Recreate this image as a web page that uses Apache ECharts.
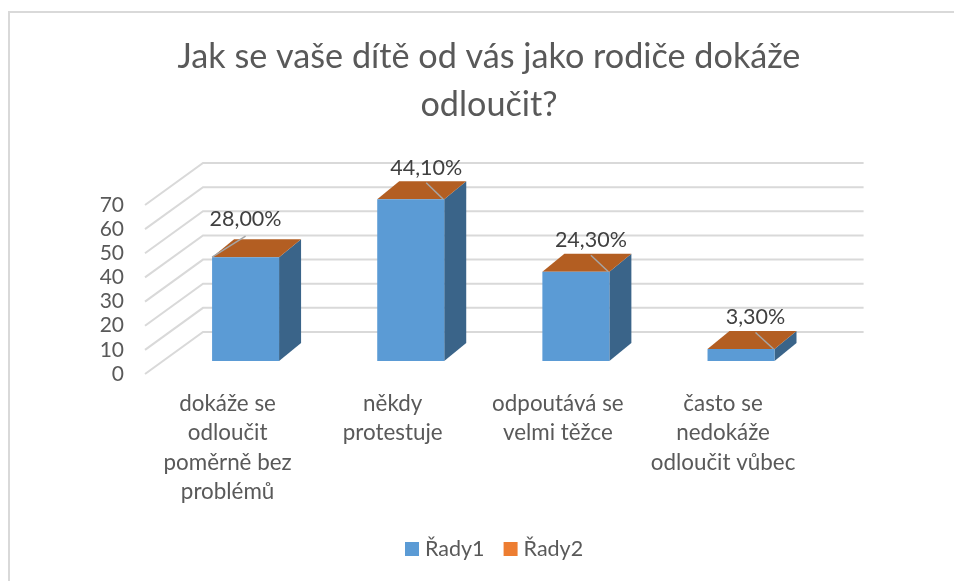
<!DOCTYPE html>
<html>
<head>
<meta charset="utf-8">
<style>
  html, body { margin: 0; padding: 0; background: #fff; }
  #chart { width: 954px; height: 581px; }
</style>
<script src="https://cdn.jsdelivr.net/npm/echarts@6/dist/echarts.min.js"></script>
</head>
<body>
<div id="chart"></div>
<script>
var titleText = 'Jak se vaše dítě od vás jako rodiče dokáže\nodloučit?';
var categories = [
  'dokáže se\nodloučit\npoměrně bez\nproblémů',
  'někdy\nprotestuje',
  'odpoutává se\nvelmi těžce',
  'často se\nnedokáže\nodloučit vůbec'
];
var series1Name = 'Řady1';
var series2Name = 'Řady2';
var series1Values = [43, 67, 37, 5];
var valueLabels = ['28,00%', '44,10%', '24,30%', '3,30%'];
var yTicks = [0, 10, 20, 30, 40, 50, 60, 70];

var FONT = 'Lato, "Open Sans", sans-serif';
// fake 3d: floor goes this far right/up from the front plane
var WALL_DX = 58, WALL_DY = -42;
var BAR_DX = 22, BAR_DY = -18;
// bars sit in the middle of the floor depth
var BAR_OFF_X = 18, BAR_OFF_Y = -13;
var BAR_WIDTH = 67;
// label position against top of the bar [dx from bar centre, dy from top], leader goes to front corner
var labelShift = [[0, -38], [15.5, -31.5], [15, -31.5], [14.5, -31.5]];

function renderGrid(params, api) {
  var cs = params.coordSys;
  var y = api.coord([0, api.value(0)])[1];
  return {
    type: 'polyline',
    silent: true,
    shape: {
      points: [
        [cs.x, y],
        [cs.x + WALL_DX, y + WALL_DY],
        [cs.x + cs.width + WALL_DX, y + WALL_DY]
      ]
    },
    style: { fill: null, stroke: '#D9D9D9', lineWidth: 2 }
  };
}

function renderBar(params, api) {
  var i = api.value(0);
  var top = api.coord([i, api.value(1)]);
  var base = api.coord([i, 0]);
  var x0 = top[0] - BAR_WIDTH / 2 + BAR_OFF_X;
  var x1 = x0 + BAR_WIDTH;
  var yT = top[1] + BAR_OFF_Y;
  var yB = base[1] + BAR_OFF_Y;
  var shift = labelShift[i];
  var cx = (x0 + x1) / 2;
  var leftLeader = shift[0] === 0;
  return {
    type: 'group',
    children: [
      {
        type: 'polygon',
        shape: { points: [[x1, yT], [x1 + BAR_DX, yT + BAR_DY], [x1 + BAR_DX, yB + BAR_DY], [x1, yB]] },
        style: { fill: '#3A6489' }
      },
      {
        type: 'polygon',
        shape: { points: [[x0, yT], [x0 + BAR_DX, yT + BAR_DY], [x1 + BAR_DX, yT + BAR_DY], [x1, yT]] },
        style: { fill: '#B35E22' }
      },
      {
        type: 'rect',
        shape: { x: x0, y: yT, width: BAR_WIDTH, height: yB - yT },
        style: { fill: '#5B9BD5' }
      },
      {
        type: 'line',
        shape: {
          x1: leftLeader ? x0 : x1 - 1,
          y1: yT,
          x2: cx + shift[0],
          y2: yT + shift[1] + (leftLeader ? 17 : 15)
        },
        style: { stroke: '#A6A6A6', lineWidth: 1.5 }
      },
      {
        type: 'text',
        style: {
          x: cx + shift[0],
          y: yT + shift[1],
          text: valueLabels[i],
          fill: '#404040',
          font: '21.5px ' + FONT,
          align: 'center',
          verticalAlign: 'middle'
        }
      }
    ]
  };
}

var chart = echarts.init(document.getElementById('chart'), null, { renderer: 'canvas' });

chart.setOption({
  backgroundColor: '#fff',
  animation: false,
  title: {
    text: titleText,
    left: 484,
    top: 28,
    textAlign: 'center',
    textStyle: { color: '#595959', fontFamily: FONT, fontWeight: 'normal', fontSize: 34.2, lineHeight: 48 }
  },
  legend: {
    left: 400,
    top: 533,
    itemWidth: 14,
    itemHeight: 14,
    itemGap: 19,
    icon: 'rect',
    data: [series1Name, series2Name],
    textStyle: { color: '#595959', fontFamily: FONT, fontSize: 21.5, padding: [0, 0, 0, 1] }
  },
  grid: { left: 145, top: 205, width: 660.6, height: 169 },
  xAxis: {
    type: 'category',
    data: categories,
    axisLine: { show: false },
    axisTick: { show: false },
    axisLabel: { interval: 0, margin: 15, color: '#595959', fontFamily: FONT, fontSize: 22.4, lineHeight: 29.5 }
  },
  yAxis: {
    type: 'value',
    min: 0,
    max: 70,
    interval: 10,
    axisLine: { show: false },
    axisTick: { show: false },
    splitLine: { show: false },
    axisLabel: { margin: 21, color: '#595959', fontFamily: FONT, fontSize: 21 }
  },
  graphic: [{
    type: 'polyline',
    silent: true,
    shape: { points: [[9, 581], [9, 12], [954, 12]] },
    style: { fill: null, stroke: '#D9D9D9', lineWidth: 2 }
  }],
  series: [
    {
      name: 'gridlines',
      type: 'custom',
      renderItem: renderGrid,
      data: yTicks.map(function (v) { return [v]; }),
      encode: { y: 0 },
      z: 1,
      silent: true,
      tooltip: { show: false }
    },
    {
      name: series1Name,
      type: 'custom',
      renderItem: renderBar,
      data: series1Values.map(function (v, i) { return [i, v]; }),
      encode: { x: 0, y: 1 },
      itemStyle: { color: '#5B9BD5' },
      z: 2
    },
    {
      name: series2Name,
      type: 'custom',
      renderItem: function () { return null; },
      data: [],
      itemStyle: { color: '#ED7D31' },
      z: 2
    }
  ]
});
</script>
</body>
</html>
